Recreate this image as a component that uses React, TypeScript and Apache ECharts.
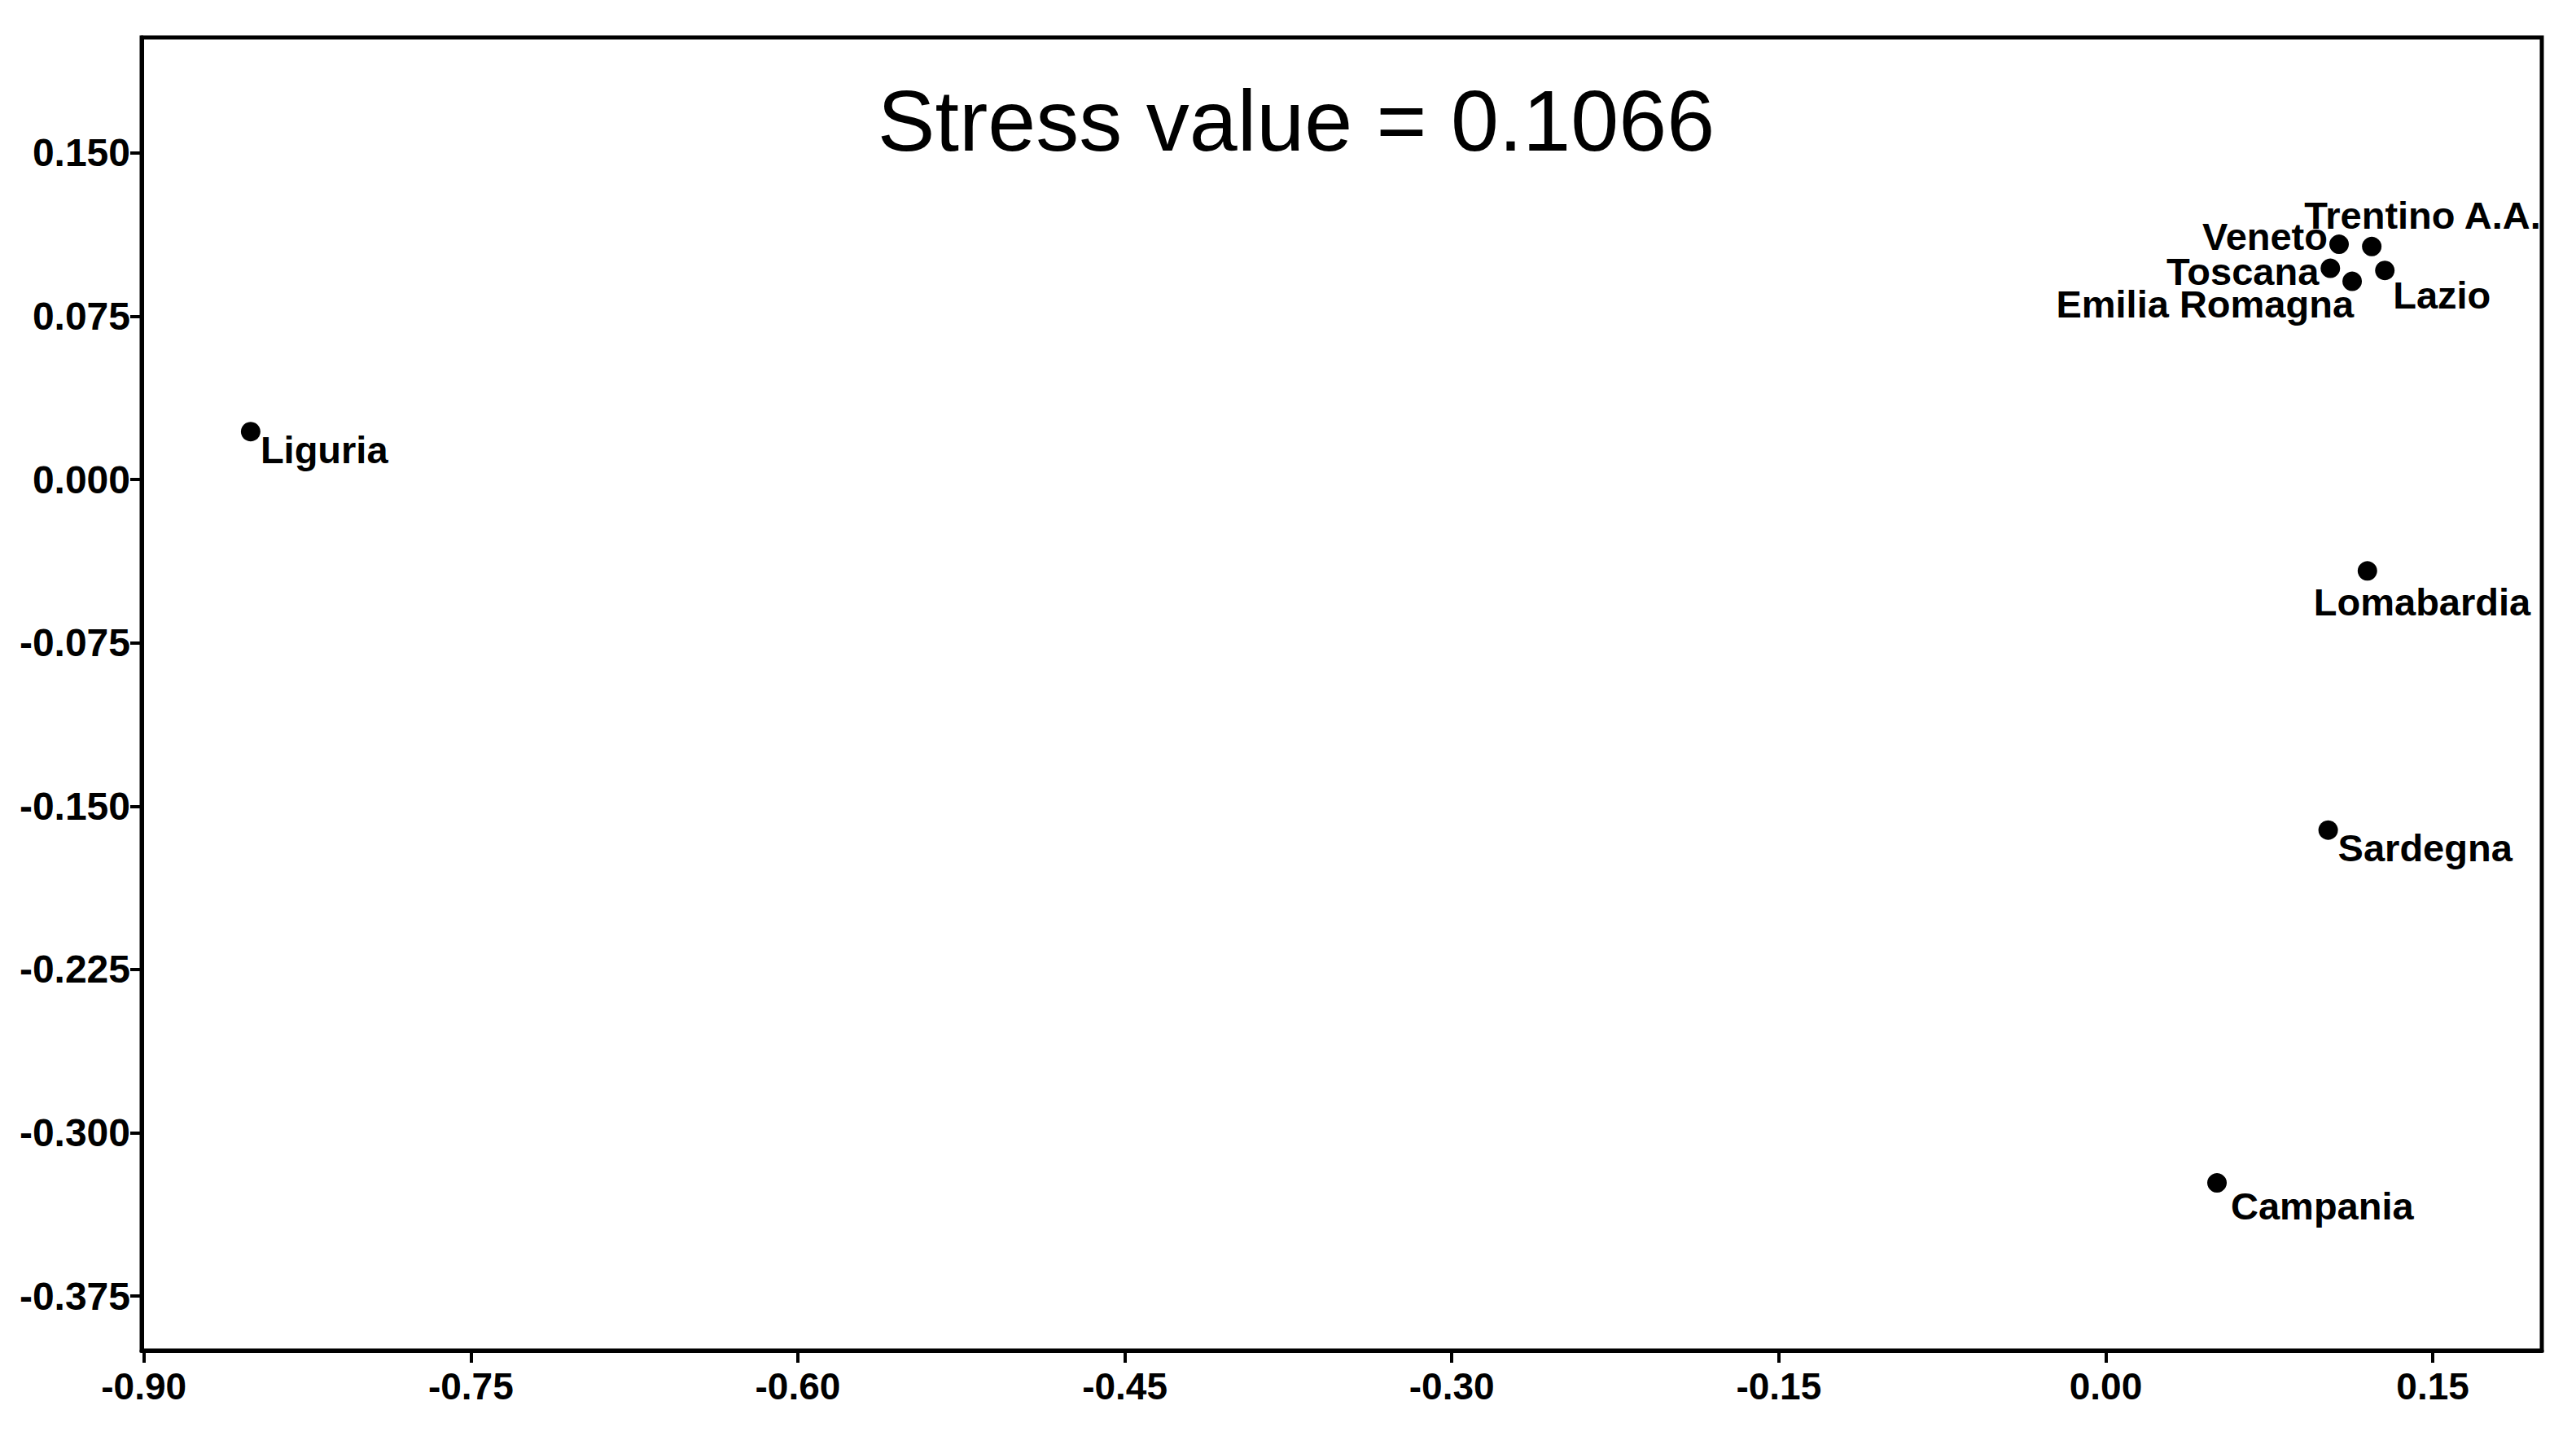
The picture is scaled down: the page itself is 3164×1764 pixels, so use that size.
import React, { useEffect, useRef } from "react";
import * as echarts from "echarts";

const regions = [
  "Liguria",
  "Veneto",
  "Trentino A.A.",
  "Toscana",
  "Emilia Romagna",
  "Lazio",
  "Lomabardia",
  "Sardegna",
  "Campania",
];
const dim1 = [-0.851, 0.107, 0.122, 0.103, 0.113, 0.128, 0.120, 0.102, 0.051];
const dim2 = [0.022, 0.108, 0.107, 0.097, 0.091, 0.096, -0.042, -0.161, -0.323];

const xTicks = [-0.9, -0.75, -0.6, -0.45, -0.3, -0.15, 0.0, 0.15];
const yTicks = [-0.375, -0.3, -0.225, -0.15, -0.075, 0.0, 0.075, 0.15];

const titleText = "Stress value = 0.1066";

// label placement (layout, not data)
const labelPlacement: Record<string, { align: string; offset: [number, number] }> = {
  "Liguria": { align: "left", offset: [12, 22] },
  "Veneto": { align: "right", offset: [-14, -10] },
  "Trentino A.A.": { align: "left", offset: [-83, -38] },
  "Toscana": { align: "right", offset: [-14, 4] },
  "Emilia Romagna": { align: "right", offset: [2, 28] },
  "Lazio": { align: "left", offset: [10, 30] },
  "Lomabardia": { align: "left", offset: [-66, 38] },
  "Sardegna": { align: "left", offset: [12, 22] },
  "Campania": { align: "left", offset: [17, 28] },
};

const FONT = "'Liberation Sans', Arial, Helvetica, sans-serif";

export default function App() {
  const ref = useRef<HTMLDivElement>(null);

  useEffect(() => {
    if (!ref.current) return;
    const chart = echarts.init(ref.current, undefined, { renderer: "svg" });

    const data = regions.map((name, i) => {
      const p = labelPlacement[name];
      return {
        name,
        value: [dim1[i], dim2[i]],
        label: { align: p.align, offset: p.offset },
      };
    });

    chart.setOption({
      animation: false,
      backgroundColor: "#ffffff",
      grid: {
        left: 174,
        right: 42,
        top: 46,
        bottom: 105,
        show: true,
        borderColor: "#000",
        borderWidth: 5,
        backgroundColor: "transparent",
      },
      graphic: [
        {
          type: "text",
          x: 1592,
          y: 148,
          style: {
            text: titleText,
            font: `400 106px ${FONT}`,
            fill: "#000",
            textAlign: "center",
            textVerticalAlign: "middle",
          },
        },
      ],
      xAxis: {
        type: "value",
        min: -0.901,
        max: 0.2,
        splitLine: { show: false },
        axisLine: { show: true, onZero: false, lineStyle: { color: "#000", width: 5 } },
        axisTick: {
          show: true,
          length: 15,
          customValues: xTicks,
          lineStyle: { color: "#000", width: 4 },
        },
        axisLabel: {
          customValues: xTicks,
          formatter: (v: number) => v.toFixed(2),
          color: "#000",
          fontFamily: FONT,
          fontWeight: "bold",
          fontSize: 46,
          margin: 21,
        },
      },
      yAxis: {
        type: "value",
        min: -0.4,
        max: 0.203,
        splitLine: { show: false },
        axisLine: { show: true, onZero: false, lineStyle: { color: "#000", width: 5 } },
        axisTick: {
          show: true,
          length: 14,
          customValues: yTicks,
          lineStyle: { color: "#000", width: 4 },
        },
        axisLabel: {
          customValues: yTicks,
          formatter: (v: number) => v.toFixed(3),
          color: "#000",
          fontFamily: FONT,
          fontWeight: "bold",
          fontSize: 48,
          margin: 14,
        },
      },
      series: [
        {
          type: "scatter",
          symbol: "circle",
          symbolSize: 24,
          itemStyle: { color: "#000", opacity: 1 },
          label: {
            show: true,
            position: "inside",
            formatter: "{b}",
            color: "#000",
            opacity: 1,
            fontFamily: FONT,
            fontWeight: "bold",
            fontSize: 47,
            verticalAlign: "middle",
          },
          data,
        },
      ],
    });

    return () => chart.dispose();
  }, []);

  return (
    <div
      ref={ref}
      style={{ position: "absolute", left: 0, top: 0, width: 3164, height: 1764 }}
    />
  );
}
